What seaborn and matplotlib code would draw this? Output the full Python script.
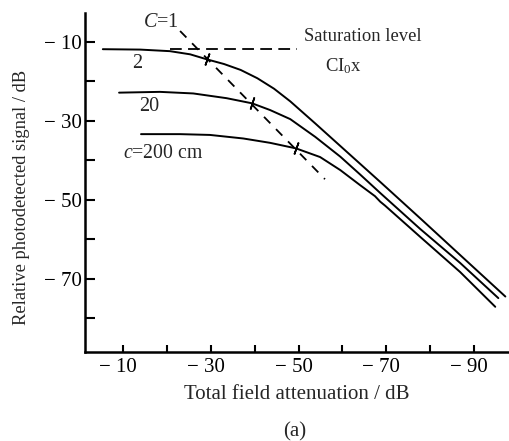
import numpy as np
import pandas as pd
import matplotlib
matplotlib.use("Agg")
import matplotlib.pyplot as plt
from matplotlib.ticker import FixedLocator, FuncFormatter
from matplotlib.transforms import ScaledTranslation
import seaborn as sns

# Photodetected signal versus total field attenuation for three values of C
att_c2 = [-5.4, -13.9, -20.7, -25.3, -29.2, -33.0, -36.8, -40.6, -44.4, -48.1,
          -53.8, -59.5, -68.6, -77.7, -86.8, -97.1]
sig_c2 = [-11.9, -12.0, -12.4, -13.2, -14.5, -15.65, -17.15, -19.25, -21.9, -25.1,
          -30.7, -36.4, -45.5, -54.7, -64.0, -74.5]

att_c20 = [-9.1, -18.4, -26.0, -33.6, -39.4, -43.5, -48.1, -53.8, -59.5, -64.0,
           -68.6, -77.7, -86.8, -95.5]
sig_c20 = [-22.9, -22.7, -23.1, -24.3, -25.6, -27.3, -29.6, -34.1, -39.1, -43.6,
           -48.3, -57.4, -66.0, -74.9]

att_c200 = [-14.1, -23.0, -29.8, -37.4, -43.5, -49.4, -54.9, -59.5, -64.0, -67.4,
            -68.6, -69.7, -77.7, -86.8, -94.8]
sig_c200 = [-33.4, -33.4, -33.6, -34.5, -35.6, -37.0, -39.2, -42.5, -46.3, -49.1,
            -50.5, -51.5, -59.4, -68.3, -77.1]

# Points where each curve meets the saturation boundary
cross_att = [-29.2, -39.4, -49.4]
cross_sig = [-14.5, -25.6, -37.0]

# Saturation boundary (diagonal) and saturation level (horizontal)
diag_att = [-23.0, -56.0]
diag_sig = [-7.3, -44.8]
sat_att = [-20.7, -49.7]
sat_sig = [-11.9, -11.9]

x_major = [-10, -30, -50, -70, -90]
x_minor = [-20, -40, -60, -80]
y_major = [-10, -30, -50, -70]
y_minor = [-20, -40, -60, -80]

sns.set_style("ticks")
plt.rcParams["font.family"] = ["Liberation Serif", "DejaVu Serif"]
plt.rcParams["mathtext.fontset"] = "custom"
plt.rcParams["mathtext.rm"] = "Liberation Serif"
plt.rcParams["mathtext.it"] = "Liberation Serif:italic"

curves = pd.concat([
    pd.DataFrame({"att": att_c2, "sig": sig_c2, "curve": "2"}),
    pd.DataFrame({"att": att_c20, "sig": sig_c20, "curve": "20"}),
    pd.DataFrame({"att": att_c200, "sig": sig_c200, "curve": "200"}),
], ignore_index=True)

fig = plt.figure(figsize=(5.09, 4.41), dpi=100)
ax = fig.add_axes([85 / 509, 89 / 441, 424 / 509, 339 / 441])

sns.lineplot(data=curves, x="att", y="sig", hue="curve", units="curve",
             estimator=None, sort=False, palette=["black"] * 3,
             linewidth=1.4, legend=False, ax=ax)

ax.plot(diag_att, diag_sig, color="black", lw=1.3, dashes=(5.0, 4.5))
ax.plot(sat_att, sat_sig, color="black", lw=1.3, dashes=(6.5, 3.5))

for xa, ys, ang in zip(cross_att, cross_sig, [-20, -18, -20]):
    ax.plot([xa], [ys], linestyle="none", marker=(2, 2, ang),
            markersize=9, markeredgewidth=1.2, color="black")

ax.set_xlim(-1.34, -97.93)
ax.set_ylim(-88.54, -2.74)

ax.xaxis.set_major_locator(FixedLocator(x_major))
ax.xaxis.set_minor_locator(FixedLocator(x_minor))
ax.yaxis.set_major_locator(FixedLocator(y_major))
ax.yaxis.set_minor_locator(FixedLocator(y_minor))
fmt = FuncFormatter(lambda v, p: "\u2212 %d" % abs(v) if v < 0 else "%d" % v)
ax.xaxis.set_major_formatter(fmt)
ax.yaxis.set_major_formatter(fmt)

ax.tick_params(axis="x", which="both", direction="in", length=5, width=1.5,
               labelsize=15, pad=4, colors="black")
ax.tick_params(axis="y", which="both", direction="in", length=7, width=1.5,
               labelsize=15, pad=2, colors="black")

# nudge the x tick labels slightly left
shift = ScaledTranslation(-5 / 100, 0, fig.dpi_scale_trans)
for lbl in ax.get_xticklabels():
    lbl.set_transform(lbl.get_transform() + shift)

for side in ("top", "right"):
    ax.spines[side].set_visible(False)
for side in ("left", "bottom"):
    ax.spines[side].set_linewidth(1.8)
    ax.spines[side].set_color("black")

ax.set_xlabel("Total field attenuation / dB", fontsize=15, labelpad=6)
ax.set_ylabel("Relative photodetected signal / dB", fontsize=13.3)
ax.yaxis.set_label_coords(-0.130, 0.457)

ax.text(-14.56, -5.27, r"$C$=1", fontsize=14.5, va="center", ha="left")
ax.text(-13.2, -15.4, "2", fontsize=14.5, va="center", ha="center")
ax.text(-15.9, -26.45, "20", fontsize=14.5, va="center", ha="center")
ax.text(-10.07, -38.25, r"$c$=200 cm", fontsize=14.2, va="center", ha="left")
ax.text(-51.3, -8.73, "Saturation level", fontsize=13.4, va="center", ha="left")
ax.text(-56.0, -16.3, r"CI$_{\mathrm{0}}$x", fontsize=13.4, va="center", ha="left")

fig.text(295 / 509, 1 - 432 / 441, "(a)", fontsize=15, ha="center", va="center")

fig.savefig("out.png", dpi=100)
